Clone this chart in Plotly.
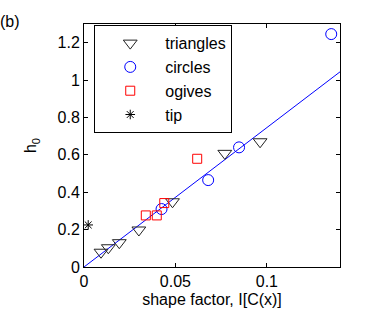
import plotly.graph_objects as go

tri_x = [0.0093, 0.0133, 0.0193, 0.0300, 0.0484, 0.0770, 0.0963]
tri_y = [0.079, 0.103, 0.130, 0.198, 0.349, 0.608, 0.670]
cir_x = [0.0424, 0.0679, 0.0848, 0.1352]
cir_y = [0.310, 0.465, 0.640, 1.246]
ogv_x = [0.0338, 0.0398, 0.0439, 0.0619]
ogv_y = [0.276, 0.276, 0.342, 0.579]
tip_x = [0.0023]
tip_y = [0.225]
fit_x = [0.0, 0.14]
fit_y = [0.0, 1.044]

x_ticks = [0, 0.05, 0.1]
x_labels = ["0", "0.05", "0.1"]
y_ticks = [0, 0.2, 0.4, 0.6, 0.8, 1.0, 1.2]
y_labels = ["0", "0.2", "0.4", "0.6", "0.8", "1", "1.2"]

FONT = "Liberation Sans, Arial, sans-serif"

fig = go.Figure()
fig.add_trace(go.Scatter(x=fit_x, y=fit_y, mode="lines",
                         line=dict(color="#0000ff", width=1), showlegend=False, hoverinfo="skip"))
fig.add_trace(go.Scatter(x=tri_x, y=tri_y, mode="markers", name="triangles",
                         marker=dict(symbol="triangle-down-open", size=12, color="#222222",
                                     line=dict(width=1))))
fig.add_trace(go.Scatter(x=cir_x, y=cir_y, mode="markers", name="circles",
                         marker=dict(symbol="circle-open", size=11, color="#0000ff",
                                     line=dict(width=1))))
fig.add_trace(go.Scatter(x=ogv_x, y=ogv_y, mode="markers", name="ogives",
                         marker=dict(symbol="square-open", size=9, color="#ff0000",
                                     line=dict(width=1))))
fig.add_trace(go.Scatter(x=tip_x, y=tip_y, mode="markers", name="tip",
                         marker=dict(symbol="asterisk-open", size=8, color="#000000",
                                     line=dict(width=1))))

fig.update_layout(
    width=374, height=315,
    margin=dict(l=84, r=34, t=24, b=48, autoexpand=False),
    paper_bgcolor="white", plot_bgcolor="white",
    font=dict(family=FONT, size=16, color="black"),
    legend=dict(x=0.04, y=0.995, xanchor="left", yanchor="top",
                bordercolor="black", borderwidth=1, bgcolor="white",
                font=dict(size=16), itemwidth=60, tracegroupgap=0),
    xaxis=dict(range=[0, 0.14], tickvals=x_ticks, ticktext=x_labels, automargin=False,
               ticks="inside", ticklen=4, tickcolor="black", mirror="ticks",
               showline=True, linecolor="black", linewidth=1, showgrid=False, zeroline=False,
               title=dict(text="shape factor, I[C(x)]", standoff=4, font=dict(size=16))),
    yaxis=dict(range=[0, 1.3], tickvals=y_ticks, ticktext=y_labels, automargin=False,
               ticks="inside", ticklen=4, tickcolor="black", mirror="ticks",
               showline=True, linecolor="black", linewidth=1, showgrid=False, zeroline=False,
               title=dict(text="h<sub>0</sub>", standoff=16, font=dict(size=16))),
)
fig.add_annotation(text="(b)", xref="paper", yref="paper", x=-0.335, y=1.055,
                   xanchor="left", yanchor="top", showarrow=False, font=dict(size=16))

fig.write_html("out.html", config={"displayModeBar": False},
               post_script="document.body.style.margin='0';document.body.style.padding='0';")
